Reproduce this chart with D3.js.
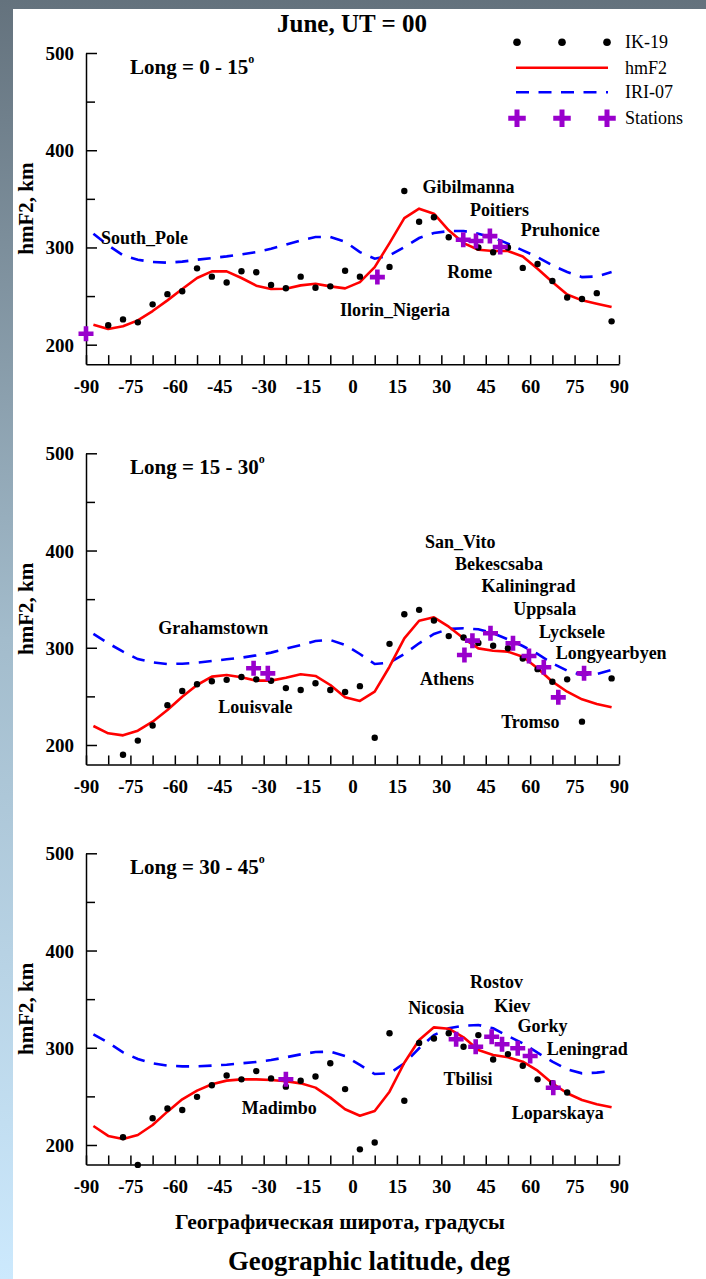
<!DOCTYPE html>
<html>
<head>
<meta charset="utf-8">
<script src="https://cdn.jsdelivr.net/npm/d3@7"></script>
<style>
  html, body { margin: 0; padding: 0; }
  body { width: 706px; height: 1279px; overflow: hidden; }
  svg { display: block; }
</style>
</head>
<body>
<script>
// Latitude grid of the model curves and IK-19 points (deg)
const latGrid = [-87.5, -82.5, -77.5, -72.5, -67.5, -62.5, -57.5, -52.5, -47.5, -42.5,
  -37.5, -32.5, -27.5, -22.5, -17.5, -12.5, -7.5, -2.5, 2.5, 7.5,
  12.5, 17.5, 22.5, 27.5, 32.5, 37.5, 42.5, 47.5, 52.5, 57.5,
  62.5, 67.5, 72.5, 77.5, 82.5, 87.5];

// Long = 0 - 15
const ik19_0_15 = [null, 220, 226, 223, 241.5, 252, 255, 278.5, 270, 264,
  275.5, 274.5, 261.5, 258, 270, 258.5, 260, 276, 270, null,
  280, 358, 326.5, 331, 310.5, null, 300, 295, 300, 279,
  283, 265.5, 248.5, 247, 253, 224];
const hmF2_0_15 = [220.6, 216.1, 218.9, 225, 234.6, 245.6, 257.3, 268.6, 275.4, 275.4,
  268.6, 260.7, 257.3, 257.6, 261, 262.7, 260, 257.9, 264.4, 279.8,
  304.5, 330.2, 339.9, 334.7, 317.6, 304.5, 297.7, 296.3, 296.3, 290.8,
  278.1, 264.4, 251.7, 245.6, 242.1, 238.7];
const iri07_0_15 = [314.2, 302.2, 291.9, 287.4, 285, 284.3, 285.4, 287.4, 289.1, 290.8,
  292.9, 295.3, 298.7, 302.8, 307.3, 310.7, 310.7, 306, 295.2, 288.4,
  291.8, 300.4, 309.7, 314.8, 316.9, 316.9, 314.2, 310.1, 303.9, 297,
  290.1, 281.6, 274.7, 269.5, 270.2, 274.7];

// Long = 15 - 30
const ik19_15_30 = [null, null, 190, 204.5, 220, 241, 255.5, 262.5, 265.5, 267,
  270, 267.5, 266, 258.5, 256.5, 263.5, 256.5, 254.5, 260.5, 207.5,
  304, 334.5, 339, 328, 312, 310.5, 305, 302, 299.5, 289,
  278, 265, 267.5, 224, null, 268.5];
const hmF2_15_30 = [219.5, 212, 209.9, 214.7, 224, 236, 249.7, 261.7, 270.3, 272,
  269.6, 266.2, 266.2, 269.2, 272.7, 271, 261.7, 249, 245.3, 254.8,
  280.5, 309.7, 327.8, 331.3, 321.7, 309.7, 299.4, 297, 296, 290.8,
  278.9, 265.1, 254.8, 247, 242.2, 238.8];
const iri07_15_30 = [314.2, 304.6, 296, 288.4, 285, 283.3, 283.6, 284.7, 286.4, 288.1,
  289.8, 292.2, 295, 299.1, 302.8, 307, 308, 302.8, 293.6, 283.3,
  284.6, 293.6, 304.6, 314.2, 319.3, 320, 319, 314.9, 308.7, 301.8,
  293.6, 284, 276.4, 272, 273, 277.1];

// Long = 30 - 45
const ik19_30_45 = [null, null, 208, 179.5, 227.5, 237.5, 236, 249.5, 261.5, 271.5,
  267.5, 276, 268.5, 260, 266, 270.5, 284, 257.5, 195.5, 202.5,
  315, 245.5, 305, 309.5, 315, 301, 313, 288, 293.5, 281.5,
  267.5, 263.5, 254, null, null, null];
const hmF2_30_45 = [219.5, 209.3, 206.2, 210.3, 220.6, 234.3, 247, 255.9, 262.4, 266.2,
  267.5, 267.5, 266.8, 265.5, 263.4, 259, 248.7, 236.7, 230.1, 235,
  254.8, 284.6, 308, 321, 319.6, 310.8, 297.7, 292.6, 290.2, 285.7,
  276.4, 263.4, 253.2, 246.3, 241.9, 238.8];
const iri07_30_45 = [313.8, 305.2, 295.3, 288.4, 284, 281.6, 280.9, 280.9, 281.6, 282.6,
  284, 285.4, 287.4, 290.2, 293.2, 295.6, 296, 291.5, 282.3, 273,
  273.7, 284, 299.5, 313.1, 320, 322.7, 323.4, 320, 312.1, 304.6,
  294.9, 285.7, 277.9, 273.7, 274.4, 276];

// Ionosonde stations: [name, latitude, hmF2]
const stations_0_15 = [
  ["South_Pole", -90, 211.3], ["Ilorin_Nigeria", 8.4, 269.5],
  ["Gibilmanna", 37.4, 308], ["Rome", 41.7, 306.6],
  ["Poitiers", 46.4, 311.7], ["Pruhonice", 49.9, 300.4]];
const stations_15_30 = [
  ["Grahamstown", -33.4, 278.9], ["Louisvale", -28.6, 273.7],
  ["Athens", 37.8, 292.6], ["San_Vito", 40.5, 307.3],
  ["Bekescsaba", 46.6, 314.9], ["Kaliningrad", 54.2, 304.6],
  ["Uppsala", 59.6, 291.5], ["Lycksele", 64.6, 279.9],
  ["Tromso", 69.5, 249], ["Longyearbyen", 78.2, 273.7]];
const stations_30_45 = [
  ["Madimbo", -22.5, 267.6], ["Nicosia", 35, 308.7],
  ["Tbilisi", 41.6, 301.1], ["Rostov", 47, 311.4],
  ["Kiev", 50.5, 303.6], ["Gorky", 55.8, 299.5],
  ["Leningrad", 60, 291.5], ["Loparskaya", 67.8, 258.9]];

// Where each station name is written: [name, latitude, hmF2] of the label's left-middle point
const labels_0_15 = [
  ["South_Pole", -84.9, 309.7], ["Ilorin_Nigeria", -4.2, 235.7],
  ["Gibilmanna", 23.6, 361.9], ["Poitiers", 39.7, 338.5],
  ["Pruhonice", 56.8, 317.9], ["Rome", 32.0, 274.4]];
const labels_15_30 = [
  ["Grahamstown", -65.6, 320], ["Louisvale", -45.3, 238.8],
  ["San_Vito", 24.5, 408.5], ["Bekescsaba", 34.6, 386.1],
  ["Kaliningrad", 43.6, 363.5], ["Uppsala", 54.3, 339.9],
  ["Lycksele", 63.0, 315.9], ["Longyearbyen", 68.6, 294.9],
  ["Athens", 22.8, 267.6], ["Tromso", 50.2, 224]];
const labels_30_45 = [
  ["Madimbo", -37.4, 237.7], ["Rostov", 39.7, 367.3],
  ["Nicosia", 18.8, 340.6], ["Kiev", 47.9, 343.2],
  ["Gorky", 55.7, 322], ["Leningrad", 65.6, 299.1],
  ["Tbilisi", 30.7, 267.6], ["Loparskaya", 53.8, 233]];

const panelTitles = ["Long = 0 - 15", "Long = 15 - 30", "Long = 30 - 45"];
const xTicks = [-90, -82.5, -75, -67.5, -60, -52.5, -45, -37.5, -30, -22.5, -15, -7.5,
  0, 7.5, 15, 22.5, 30, 37.5, 45, 52.5, 60, 67.5, 75, 82.5, 90];
const xTickLabels = [-90, -75, -60, -45, -30, -15, 0, 15, 30, 45, 60, 75, 90];
const yMajor = [200, 300, 400, 500];
const yMinor = [250, 350, 450];
const legendItems = ["IK-19", "hmF2", "IRI-07", "Stations"];

const panels = [
  {title: panelTitles[0], ik: ik19_0_15, hm: hmF2_0_15, iri: iri07_0_15, st: stations_0_15, lb: labels_0_15},
  {title: panelTitles[1], ik: ik19_15_30, hm: hmF2_15_30, iri: iri07_15_30, st: stations_15_30, lb: labels_15_30},
  {title: panelTitles[2], ik: ik19_30_45, hm: hmF2_30_45, iri: iri07_30_45, st: stations_30_45, lb: labels_30_45}
];

const W = 706, H = 1279;
const FONT = "'Liberation Serif', 'Times New Roman', serif";
const RED = "#ff0000", BLUE = "#0000ff", VIOLET = "#9900cc";

const svg = d3.select("body").append("svg")
  .attr("width", W).attr("height", H)
  .style("font-family", FONT);

// slide background: vertical slate-to-sky gradient behind a white sheet
const defs = svg.append("defs");
const grad = defs.append("linearGradient").attr("id", "bg")
  .attr("x1", 0).attr("y1", 0).attr("x2", 0).attr("y2", 1);
grad.append("stop").attr("offset", "0%").attr("stop-color", "#64727d");
grad.append("stop").attr("offset", "50%").attr("stop-color", "#a3bccc");
grad.append("stop").attr("offset", "100%").attr("stop-color", "#cce9fd");
svg.append("rect").attr("width", W).attr("height", H).attr("fill", "url(#bg)");
svg.append("rect").attr("x", 13).attr("y", 9).attr("width", W - 13).attr("height", H - 9).attr("fill", "#fff");

const x = d3.scaleLinear().domain([-90, 90]).range([86, 619]);
const panelTops = [53, 453.3, 853.3];
const yPx = 320 * 0.9723;

// plus-shaped station marker
function crossPath(size, arm) {
  const s = size / 2, a = arm / 2;
  return `M${-a},${-s}H${a}V${-a}H${s}V${a}H${a}V${s}H${-a}V${a}H${-s}V${-a}H${-a}Z`;
}

// title
svg.append("text").attr("x", 352).attr("y", 23.5)
  .attr("text-anchor", "middle").attr("dominant-baseline", "central")
  .attr("font-size", 25).attr("font-weight", "bold").text("June, UT = 00");

panels.forEach((p, i) => {
  const top = panelTops[i];
  const y = d3.scaleLinear().domain([180, 500]).range([top + yPx, top]);
  const g = svg.append("g");

  // axes
  const yAxisMajor = d3.axisLeft(y).tickValues(yMajor).tickSizeInner(-11).tickSizeOuter(0).tickPadding(0);
  const yAxisMinor = d3.axisLeft(y).tickValues(yMinor).tickSizeInner(-9).tickSizeOuter(0).tickFormat("");
  const yg = g.append("g").attr("transform", `translate(${x(-90)},0)`).call(yAxisMajor);
  g.append("g").attr("transform", `translate(${x(-90)},0)`).call(yAxisMinor).select(".domain").remove();
  yg.selectAll(".tick text").attr("x", -12).attr("dy", null).attr("dominant-baseline", "central")
    .attr("font-size", 19).attr("font-weight", "bold").attr("font-family", FONT).attr("fill", "#000");

  const xAxis = d3.axisBottom(x).tickValues(xTicks).tickSizeInner(-9).tickSizeOuter(0)
    .tickFormat(d => xTickLabels.includes(d) ? String(d) : "");
  const xg = g.append("g").attr("transform", `translate(0,${y(180)})`).call(xAxis);
  xg.selectAll(".tick text").attr("y", 22.5).attr("dy", null).attr("dominant-baseline", "central")
    .attr("font-size", 19).attr("font-weight", "bold").attr("font-family", FONT).attr("fill", "#000");

  g.selectAll(".domain, .tick line").attr("stroke", "#000").attr("stroke-width", 1.5);

  // y label
  g.append("text")
    .attr("transform", `translate(26,${(y(500) + y(180)) / 2}) rotate(-90)`)
    .attr("text-anchor", "middle").attr("dominant-baseline", "central")
    .attr("font-size", 21).attr("font-weight", "bold").text("hmF2, km");

  // panel title with degree superscript
  const t = g.append("text").attr("x", 130).attr("y", top + 14)
    .attr("dominant-baseline", "central").attr("font-size", 21).attr("font-weight", "bold");
  t.append("tspan").text(p.title);
  t.append("tspan").attr("font-size", 12).attr("dy", -8).text("o");

  const line = d3.line().defined((d) => d[1] != null).x(d => x(d[0])).y(d => y(d[1]));

  // IRI-07 model
  g.append("path").datum(latGrid.map((l, k) => [l, p.iri[k]]))
    .attr("d", line).attr("fill", "none").attr("stroke", BLUE).attr("stroke-width", 2.6)
    .attr("stroke-dasharray", "13,9.5");

  // hmF2 model
  g.append("path").datum(latGrid.map((l, k) => [l, p.hm[k]]))
    .attr("d", line).attr("fill", "none").attr("stroke", RED).attr("stroke-width", 2.6)
    .attr("stroke-linejoin", "round");

  // IK-19 points
  g.selectAll("circle.ik").data(latGrid.map((l, k) => [l, p.ik[k]]).filter(d => d[1] != null))
    .join("circle").attr("class", "ik")
    .attr("cx", d => x(d[0])).attr("cy", d => y(d[1])).attr("r", 3.2).attr("fill", "#000");

  // stations
  g.selectAll("path.st").data(p.st).join("path").attr("class", "st")
    .attr("transform", d => `translate(${x(d[1])},${y(d[2])})`)
    .attr("d", crossPath(15, 4.6)).attr("fill", VIOLET);

  // station names
  g.selectAll("text.lb").data(p.lb).join("text").attr("class", "lb")
    .attr("x", d => x(d[1])).attr("y", d => y(d[2]))
    .attr("dominant-baseline", "central")
    .attr("font-size", 18).attr("font-weight", "bold").text(d => d[0]);
});

// legend
const lgX = [517, 562, 607];
const lgY = [42.3, 67.7, 92.3, 118.3];
const lg = svg.append("g");
lgX.forEach(cx => lg.append("circle").attr("cx", cx).attr("cy", lgY[0]).attr("r", 3.8).attr("fill", "#000"));
lg.append("line").attr("x1", 516).attr("x2", 608).attr("y1", lgY[1]).attr("y2", lgY[1])
  .attr("stroke", RED).attr("stroke-width", 2.6);
lg.append("line").attr("x1", 516).attr("x2", 608).attr("y1", lgY[2]).attr("y2", lgY[2])
  .attr("stroke", BLUE).attr("stroke-width", 2.6).attr("stroke-dasharray", "13,9.5");
lgX.forEach(cx => lg.append("path").attr("transform", `translate(${cx},${lgY[3]})`)
  .attr("d", crossPath(17.5, 5)).attr("fill", VIOLET));
legendItems.forEach((s, k) => lg.append("text").attr("x", 625).attr("y", lgY[k])
  .attr("dominant-baseline", "central").attr("font-size", 18).text(s));

// bottom axis titles
svg.append("text").attr("x", 340).attr("y", 1221.7)
  .attr("text-anchor", "middle").attr("dominant-baseline", "central")
  .attr("font-size", 21.6).attr("font-weight", "bold").text("Географическая широта, градусы");
svg.append("text").attr("x", 369).attr("y", 1261)
  .attr("text-anchor", "middle").attr("dominant-baseline", "central")
  .attr("font-size", 26.8).attr("font-weight", "bold").text("Geographic latitude, deg");
</script>
</body>
</html>
